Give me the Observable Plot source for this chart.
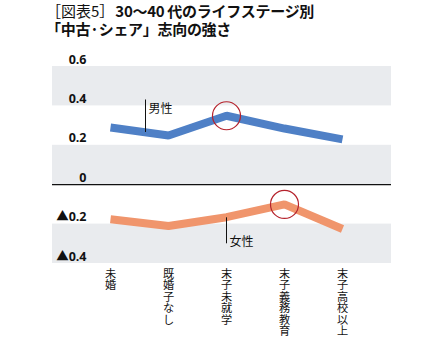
<!DOCTYPE html>
<html>
<head>
<meta charset="utf-8">
<script src="https://cdn.jsdelivr.net/npm/d3@7"></script>
<script src="https://cdn.jsdelivr.net/npm/@observablehq/plot@0.6"></script>
<style>
  html, body { margin: 0; padding: 0; background: #fff; }
  body { width: 447px; height: 347px; overflow: hidden; font-family: "Noto Sans CJK JP", "Noto Sans", sans-serif; }
  #title { height: 42px; padding: 2px 0 0 46px; box-sizing: border-box; font-size: 15px; line-height: 18px; color: #111; font-weight: bold; letter-spacing: -0.3px; }
  #title .n { font-weight: normal; letter-spacing: 0; margin-right: 1px; }
  #chart svg { display: block; }
</style>
</head>
<body>
<div id="title"><span class="n">［図表5］</span>30～40 代のライフステージ別<br>「中古·シェア」志向の強さ</div>
<div id="chart"></div>
<script>
const stages = ["未婚", "既婚子なし", "末子未就学", "末子義務教育", "末子高校以上"];
const male = [0.29, 0.25, 0.35, 0.285, 0.23];
const female = [-0.175, -0.21, -0.165, -0.10, -0.225];
const yTicks = [0.6, 0.4, 0.2, 0, -0.2, -0.4];
const bands = [[0.4, 0.6], [0, 0.2], [-0.4, -0.2]];
const maleLabel = "男性";
const femaleLabel = "女性";

const fmt = d => d === 0 ? "0" : (d < 0 ? "▲" + Math.abs(d).toFixed(1) : d.toFixed(1));
const maleData = stages.map((s, i) => ({stage: s, v: male[i]}));
const femaleData = stages.map((s, i) => ({stage: s, v: female[i]}));

const chart = Plot.plot({
  width: 447,
  height: 305,
  marginTop: 24,
  marginBottom: 84,
  marginLeft: 52,
  marginRight: 56,
  style: {fontFamily: "'Noto Sans CJK JP', sans-serif", background: "#fff"},
  x: {type: "point", domain: stages, padding: 0.91, align: 0.54, axis: null},
  y: {domain: [-0.4, 0.6], axis: null},
  marks: [
    Plot.rect(bands, {y1: d => d[0], y2: d => d[1], fill: "#e9ebee"}),
    Plot.ruleY([0], {stroke: "#111", strokeWidth: 1.2}),
    Plot.text(yTicks, {y: d => d, text: fmt, frameAnchor: "left", dx: 34, dy: -7, textAnchor: "end",
      fontWeight: "bold", fontSize: 12.5, fill: "#111", fontFamily: "'Open Sans', 'Noto Sans CJK JP', sans-serif"}),
    Plot.axisX({tickSize: 0, tickPadding: 6, fontSize: 11.2, lineHeight: 1.03, fill: "#111", label: null,
      tickFormat: d => d.split("").join("\n")}),
    Plot.line(maleData, {x: "stage", y: "v", stroke: "#4f80c6", strokeWidth: 8, strokeLinejoin: "miter", strokeLinecap: "butt"}),
    Plot.line(femaleData, {x: "stage", y: "v", stroke: "#f0956c", strokeWidth: 8, strokeLinejoin: "miter", strokeLinecap: "butt"}),
    Plot.dot([maleData[2], femaleData[3]], {x: "stage", y: "v", r: 14, stroke: "#b5222c", strokeWidth: 1.2, fill: "none"}),
    Plot.ruleX([stages[0]], {y1: 0.43, y2: 0.265, dx: 35, stroke: "#111", strokeWidth: 1}),
    Plot.text([stages[0]], {x: d => d, y: 0.385, text: [maleLabel], dx: 38, textAnchor: "start", fontSize: 12, fill: "#111"}),
    Plot.ruleX([stages[2]], {y1: -0.168, y2: -0.30, stroke: "#111", strokeWidth: 1}),
    Plot.text([stages[2]], {x: d => d, y: -0.29, text: [femaleLabel], dx: 3, textAnchor: "start", fontSize: 12, fill: "#111"})
  ]
});
document.getElementById("chart").appendChild(chart);
</script>
</body>
</html>
